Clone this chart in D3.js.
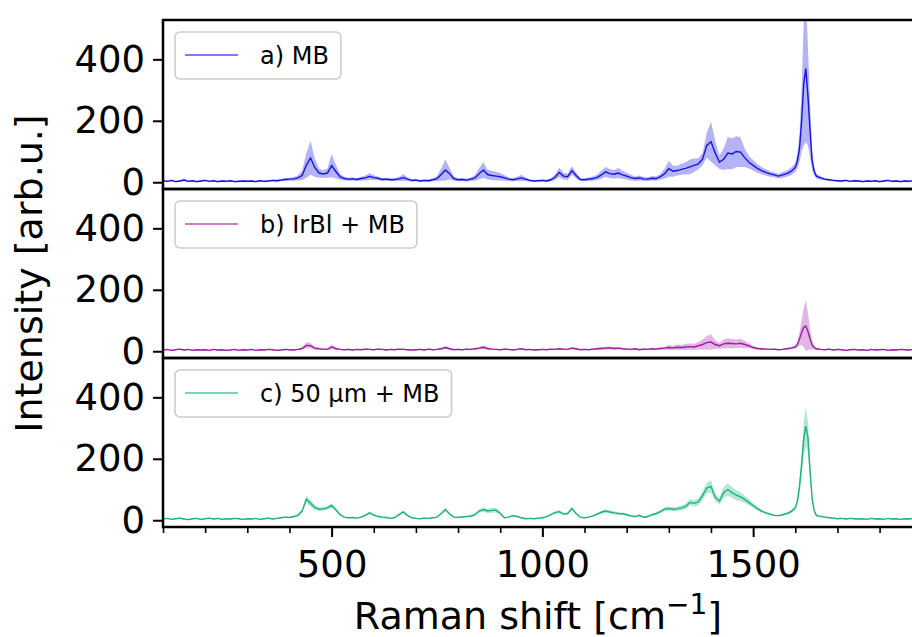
<!DOCTYPE html>
<html>
<head>
<meta charset="utf-8">
<script src="https://cdn.jsdelivr.net/npm/d3@7/dist/d3.min.js"></script>
<style>
body { margin: 0; background: #fff; }
text { font-family: "DejaVu Sans", sans-serif; }
</style>
</head>
<body>
<div id="chart"></div>
<script>
// Raman shift grid [cm^-1], finer around the 1625 peak
const shift = [
  100,110,120,130,140,150,160,170,180,190,
  200,210,220,230,240,250,260,270,280,290,
  300,310,320,330,340,350,360,370,380,390,
  400,410,420,430,440,450,460,470,480,490,
  500,510,520,530,540,550,560,570,580,590,
  600,610,620,630,640,650,660,670,680,690,
  700,710,720,730,740,750,760,770,780,790,
  800,810,820,830,840,850,860,870,880,890,
  900,910,920,930,940,950,960,970,980,990,
  1000,1010,1020,1030,1040,1050,1060,1070,1080,1090,
  1100,1110,1120,1130,1140,1150,1160,1170,1180,1190,
  1200,1210,1220,1230,1240,1250,1260,1270,1280,1290,
  1300,1310,1320,1330,1340,1350,1360,1370,1380,1390,
  1400,1410,1420,1430,1440,1450,1460,1470,1480,1490,
  1500,1510,1520,1530,1540,1550,1560,1570,1580,1590,
  1600,1605,1610,1615,1620,1625,1630,1635,1640,1645,1650,
  1660,1670,1680,1690,1700,1710,1720,1730,1740,1750,
  1760,1770,1780,1790,1800,1810,1820,1830,1840,1850,
  1860,1870,1880,1890
];

// a) MB
const mbMean = [
  5,3,6,2,4,7,3,5,2,4,
  6,3,5,2,4,3,5,2,3,4,
  3,4,2,5,3,4,6,5,7,9,
  10,11,14,22,55,79,48,30,27,30,
  54,35,18,12,10,11,9,12,14,19,
  15,13,9,10,8,9,11,15,10,6,
  7,4,6,5,8,12,25,40,28,12,
  8,9,7,10,14,28,40,25,22,20,
  18,14,10,8,11,14,10,6,4,5,
  6,4,8,16,32,20,18,38,22,9,
  8,10,12,16,24,34,28,26,30,24,
  20,15,12,14,11,10,13,12,18,28,
  44,36,38,42,45,50,55,60,75,120,
  132,95,65,75,95,92,100,98,80,65,
  55,45,38,32,27,24,20,24,28,35,
  48,70,110,200,320,370,280,170,70,35,20,
  14,10,8,6,5,4,6,3,5,4,
  2,4,3,5,2,4,6,3,4,2,
  4,3,5,3
];
const mbSd = [
  3,3,3,3,3,3,3,3,3,3,
  3,3,3,3,3,3,3,3,3,3,
  3,3,3,3,3,3,3,4,4,5,
  5,6,8,15,40,55,30,15,12,15,
  38,22,10,6,5,5,5,6,8,11,
  8,6,5,5,5,5,7,11,6,4,
  4,4,4,4,5,8,20,34,18,7,
  5,5,5,6,9,18,25,16,15,14,
  12,9,6,5,7,10,6,4,3,3,
  4,4,5,9,15,11,10,14,10,5,
  5,6,7,9,13,16,15,14,16,13,
  11,9,7,8,7,6,7,7,10,16,
  26,18,16,18,20,24,22,18,20,40,
  65,40,22,35,52,50,50,48,30,20,
  17,14,12,10,9,8,8,9,10,12,
  15,25,45,100,200,240,160,90,30,12,8,
  6,4,3,3,3,3,3,3,3,3,
  3,3,3,3,3,3,3,3,3,3,
  3,3,3,3
];

// b) IrBl + MB
const irblMean = [
  4,6,3,5,7,4,6,3,5,4,
  5,3,6,4,5,3,4,6,3,5,
  4,6,3,5,4,6,5,3,4,6,
  5,4,6,9,19,18,10,8,7,6,
  14,9,6,5,6,4,6,5,7,6,
  5,7,6,4,6,5,7,6,5,4,
  5,6,4,7,5,6,8,12,8,5,
  6,5,7,6,8,10,13,9,7,6,
  5,7,6,4,6,8,5,6,4,5,
  6,5,7,6,8,7,6,10,8,5,
  6,5,7,8,9,10,11,9,10,8,
  7,6,8,5,7,6,8,7,9,10,
  12,11,13,12,14,15,14,18,22,28,
  30,22,18,24,26,25,24,26,22,18,
  12,9,8,7,6,7,5,6,8,10,
  14,22,40,60,78,82,65,40,20,12,8,
  6,5,7,4,6,5,3,5,6,4,
  5,3,6,4,5,6,3,5,4,6,
  5,4,6,5
];
const irblSd = [
  2,2,2,2,2,2,2,2,2,2,
  2,2,2,2,2,2,2,2,2,2,
  2,2,2,2,2,2,2,2,2,2,
  2,2,2,3,10,9,5,3,2,2,
  8,4,2,2,2,2,2,2,3,2,
  2,2,2,2,2,2,2,2,2,2,
  2,2,2,2,2,2,3,5,3,2,
  2,2,2,2,3,4,6,4,3,2,
  2,2,2,2,2,2,2,2,2,2,
  2,2,2,2,3,2,2,4,3,2,
  2,2,3,3,4,5,5,4,4,3,
  3,2,3,2,3,2,3,3,4,5,
  8,7,9,8,10,10,10,12,16,22,
  25,14,10,14,16,15,14,15,12,8,
  5,4,3,3,2,3,2,2,3,4,
  5,10,22,40,65,82,60,35,14,6,4,
  2,2,2,2,2,2,2,2,2,2,
  2,2,2,2,2,2,2,2,2,2,
  2,2,2,2
];

// c) 50 µm + MB
const umMean = [
  4,6,3,5,7,4,2,5,6,3,
  5,7,4,6,3,5,4,6,5,3,
  5,4,6,3,5,7,4,6,8,10,
  9,12,16,30,68,55,42,36,37,40,
  48,34,18,10,8,9,7,10,16,24,
  17,12,10,9,6,9,18,27,16,8,
  6,5,7,6,8,10,22,35,20,10,
  9,11,12,13,18,30,35,30,32,33,
  22,8,10,15,12,8,5,6,5,7,
  8,12,18,25,28,20,22,38,22,10,
  8,10,14,20,26,30,27,24,22,21,
  18,14,12,16,10,12,18,22,28,36,
  38,36,37,40,45,58,55,60,80,105,
  110,75,62,90,100,90,82,76,68,58,
  48,38,30,24,20,16,15,18,22,28,
  40,62,110,180,265,306,270,160,70,30,16,
  12,10,8,7,5,6,4,6,5,4,
  5,3,6,4,5,3,6,4,5,3,
  5,4,6,4
];
const umSd = [
  2,2,2,2,2,2,2,2,2,2,
  2,2,2,2,2,2,2,2,2,2,
  2,2,2,2,2,2,2,2,2,2,
  2,3,4,6,10,12,8,6,6,6,
  7,5,3,2,2,2,2,2,3,4,
  3,2,2,2,2,2,3,4,3,2,
  2,2,2,2,2,2,4,5,3,2,
  2,2,2,3,4,6,7,7,8,8,
  5,2,2,3,2,2,2,2,2,2,
  2,2,3,4,5,4,4,5,4,2,
  2,2,3,4,5,6,5,5,4,4,
  4,3,3,3,2,3,4,4,5,7,
  7,7,8,8,9,10,10,11,14,18,
  20,12,12,18,20,18,16,14,12,10,
  8,6,5,4,4,3,3,3,4,5,
  7,12,22,40,55,65,50,30,12,6,4,
  2,2,2,2,2,2,2,2,2,2,
  2,2,2,2,2,2,2,2,2,2,
  2,2,2,2
];

const labels = ["a) MB", "b) IrBl + MB", "c) 50 \u00b5m + MB"];
const colors = ["#1414e0", "#a11ca8", "#1db37a"];
const yTicks = [0, 200, 400];
const xMajor = [500, 1000, 1500];
const xMinor = [100, 200, 300, 400, 600, 700, 800, 900, 1100, 1200, 1300, 1400, 1600, 1700, 1800];

const series = [
  {label: labels[0], mean: mbMean, sd: mbSd, color: colors[0]},
  {label: labels[1], mean: irblMean, sd: irblSd, color: colors[1]},
  {label: labels[2], mean: umMean, sd: umSd, color: colors[2]}
];

var left = 163, top0 = 20, panelH = 169, right = 915;

var svg = d3.select("#chart").append("svg")
  .attr("width", 912)
  .attr("height", 637);

var x = d3.scaleLinear().domain([100, 1884]).range([left, right]);

series.forEach(function(s, i) {
  var y0 = top0 + i * panelH;
  var y = d3.scaleLinear().domain([-22, 528]).range([y0 + panelH, y0]);

  var pts = shift.map((v, k) => ({x: v, m: s.mean[k], sd: s.sd[k]}));

  svg.append("clipPath").attr("id", "clip" + i)
    .append("rect")
    .attr("x", left).attr("y", y0)
    .attr("width", right - left).attr("height", panelH);

  var g = svg.append("g").attr("clip-path", "url(#clip" + i + ")");

  // std band
  g.append("path")
    .datum(pts)
    .attr("fill", s.color)
    .attr("fill-opacity", 0.32)
    .attr("stroke", "none")
    .attr("d", d3.area()
      .x(d => x(d.x))
      .y0(d => y(d.m - d.sd))
      .y1(d => y(d.m + d.sd)));

  // mean line
  g.append("path")
    .datum(pts)
    .attr("fill", "none")
    .attr("stroke", s.color)
    .attr("stroke-width", 1.4)
    .attr("d", d3.line()
      .x(d => x(d.x))
      .y(d => y(d.m)));

  // y axis
  var ay = svg.append("g")
    .attr("transform", "translate(" + left + ",0)")
    .call(d3.axisLeft(y).tickValues(yTicks).tickSize(10).tickPadding(8).tickSizeOuter(0));
  ay.select(".domain").remove();
  ay.selectAll("line").attr("stroke-width", 2);
  ay.selectAll("text").style("font-size", "37px").attr("fill", "#000")
    .attr("font-family", "DejaVu Sans");

  // legend
  var lg = svg.append("g").attr("transform", "translate(175," + (y0 + 12) + ")");
  var box = lg.append("rect")
    .attr("rx", 5).attr("ry", 5)
    .attr("fill", "#fff").attr("fill-opacity", 0.85)
    .attr("stroke", "#cccccc").attr("stroke-width", 1.6);
  lg.append("line")
    .attr("x1", 10).attr("x2", 63)
    .attr("y1", 23).attr("y2", 23)
    .attr("stroke", s.color).attr("stroke-opacity", 0.75).attr("stroke-width", 1.6);
  var t = lg.append("text")
    .attr("x", 85).attr("y", 31.5)
    .style("font-size", "24px")
    .text(s.label);
  var w = t.node().getBBox().width;
  box.attr("width", 85 + w + 12).attr("height", 47);

  // frame
  svg.append("rect")
    .attr("x", left).attr("y", y0)
    .attr("width", right - left).attr("height", panelH)
    .attr("fill", "none")
    .attr("stroke", "#000")
    .attr("stroke-width", 2.5);
});

// x axis under the bottom panel
var yb = top0 + 3 * panelH;
var ax = svg.append("g")
  .attr("transform", "translate(0," + yb + ")")
  .call(d3.axisBottom(x).tickValues(xMajor).tickFormat(d3.format("d"))
    .tickSize(10).tickPadding(14).tickSizeOuter(0));
ax.select(".domain").remove();
ax.selectAll("line").attr("stroke-width", 2);
ax.selectAll("text").style("font-size", "37px").attr("fill", "#000");

var axm = svg.append("g")
  .attr("transform", "translate(0," + yb + ")")
  .call(d3.axisBottom(x).tickValues(xMinor).tickSize(6).tickFormat("").tickSizeOuter(0));
axm.select(".domain").remove();
axm.selectAll("line").attr("stroke-width", 1.6);

// axis titles
var xl = svg.append("text")
  .attr("x", (left + 913) / 2)
  .attr("y", 629)
  .attr("text-anchor", "middle")
  .style("font-size", "38px");
xl.append("tspan").text("Raman shift [cm");
xl.append("tspan").attr("dy", -15).style("font-size", "28px").text("\u22121");
xl.append("tspan").attr("dy", 15).text("]");

svg.append("text")
  .attr("transform", "translate(42," + (top0 + 1.5 * panelH) + ") rotate(-90)")
  .attr("text-anchor", "middle")
  .style("font-size", "38px")
  .text("Intensity [arb.u.]");
</script>
</body>
</html>
